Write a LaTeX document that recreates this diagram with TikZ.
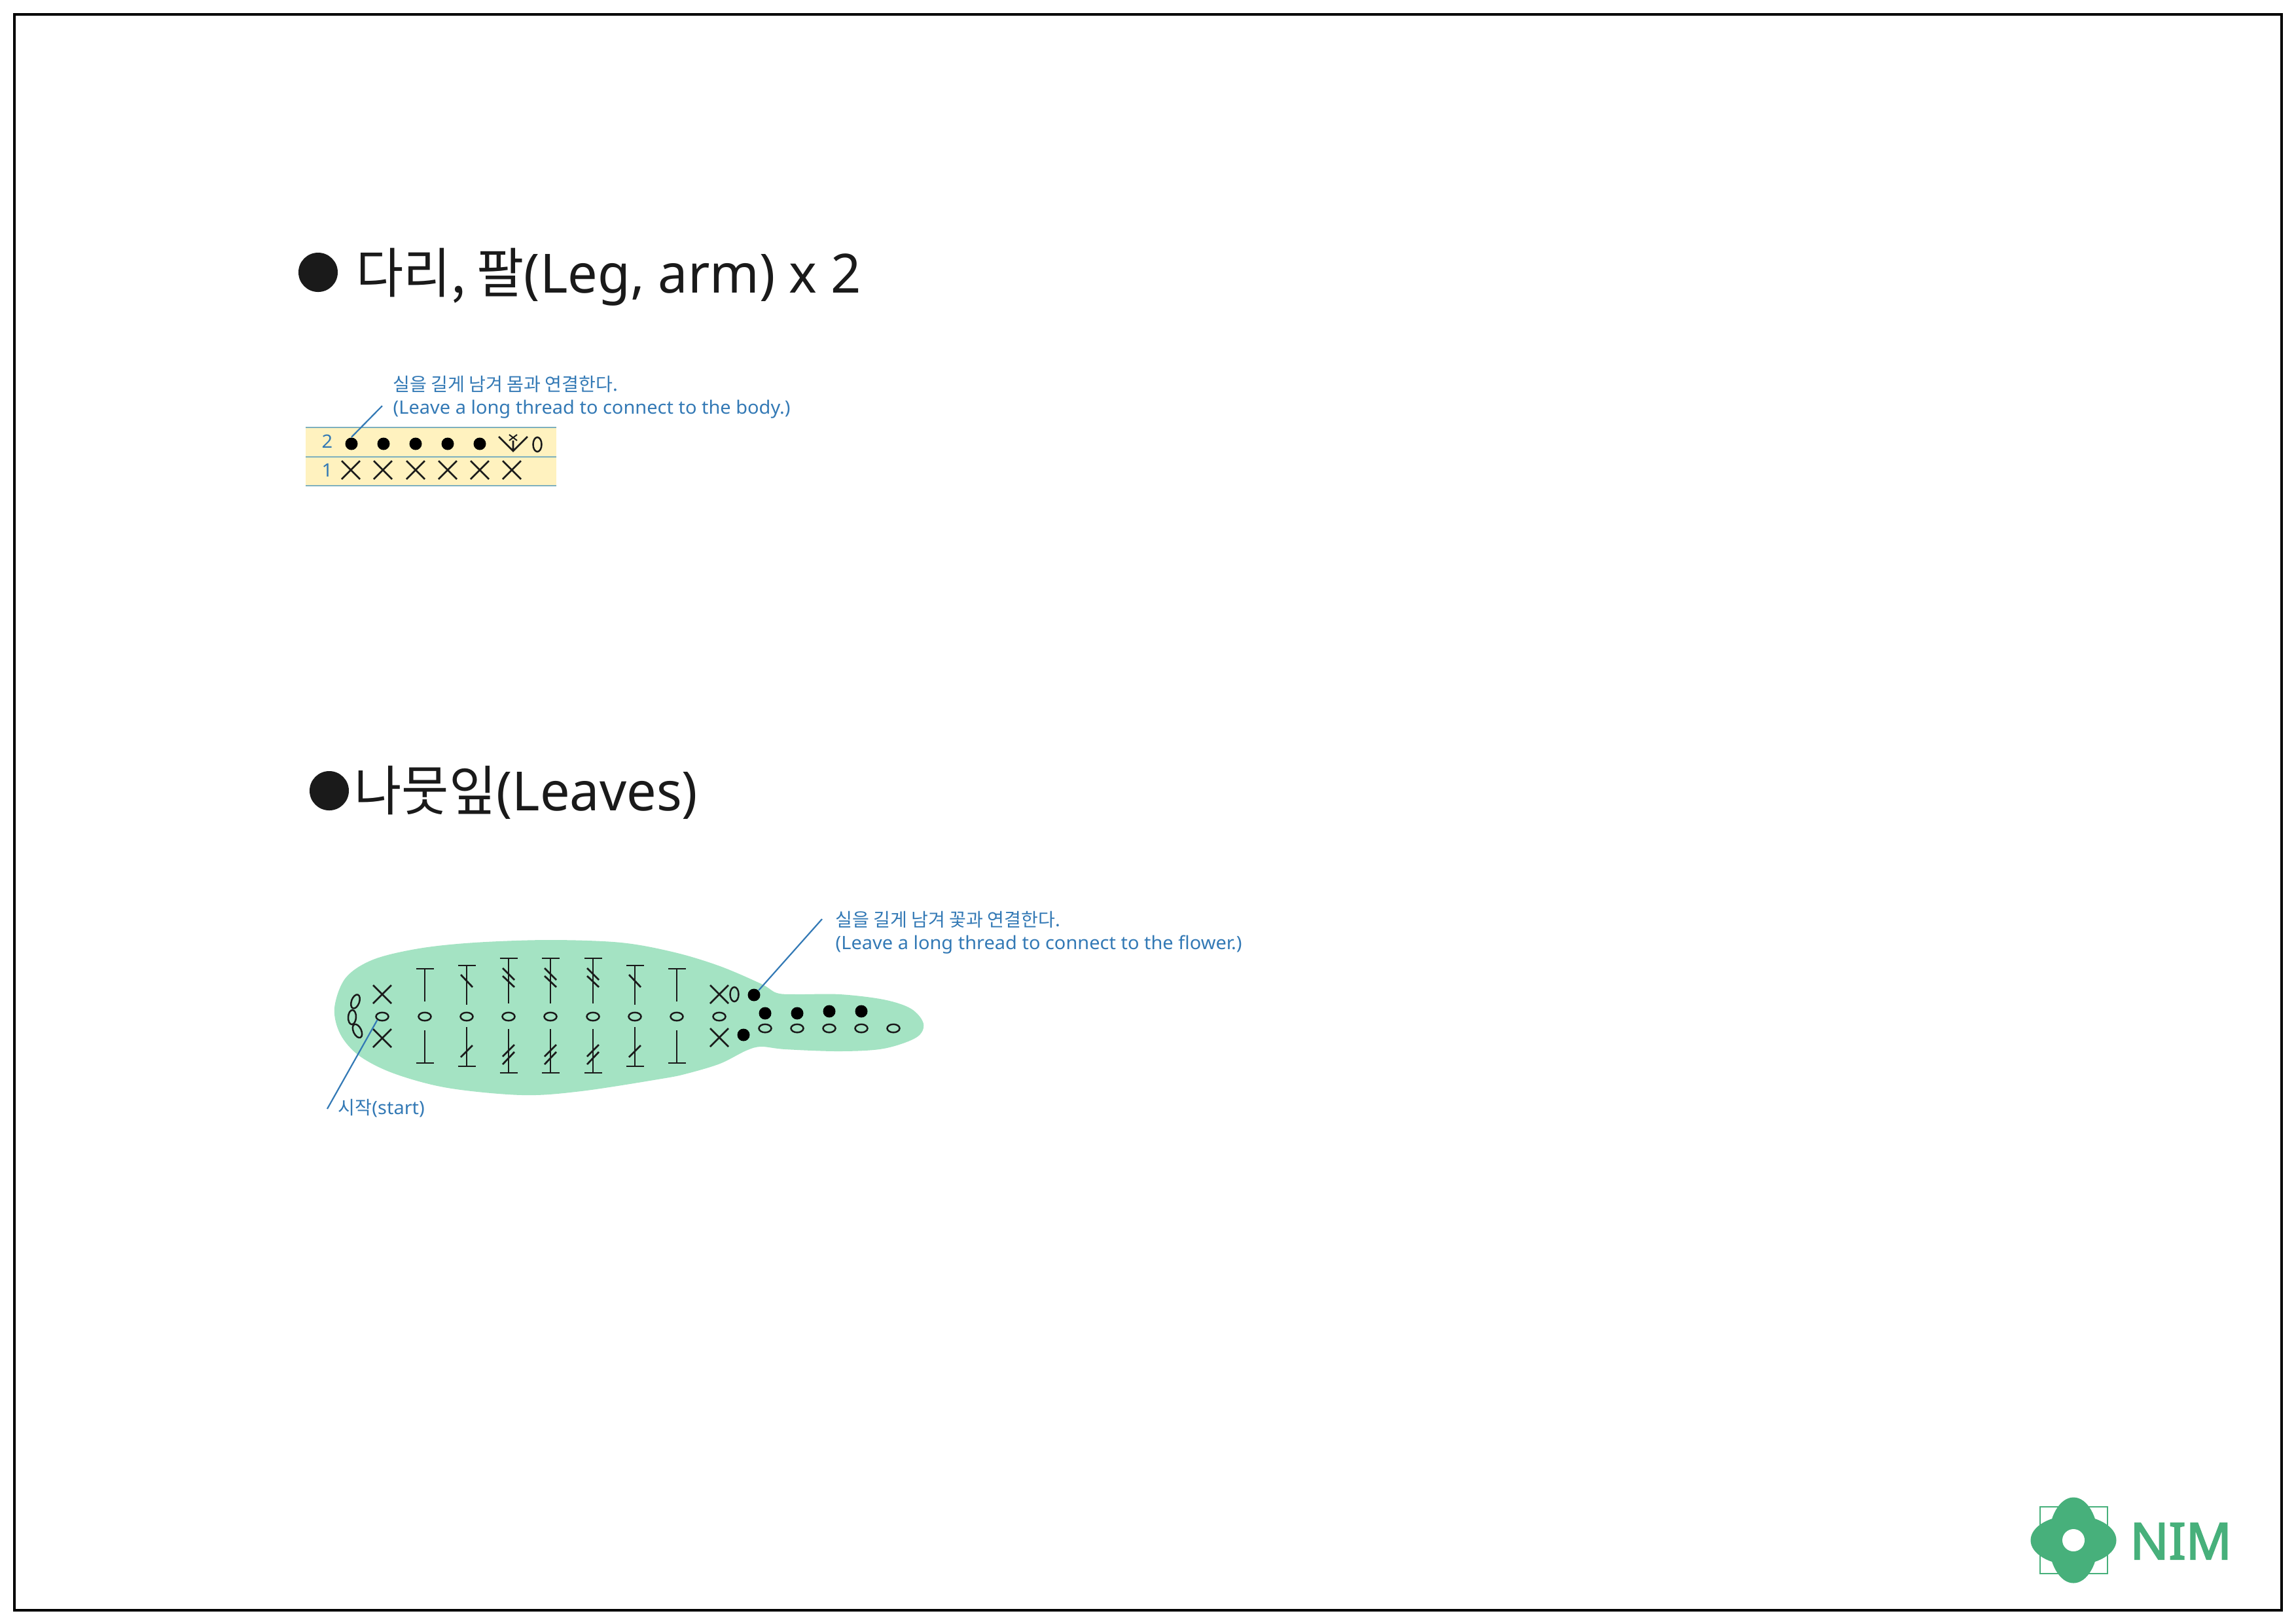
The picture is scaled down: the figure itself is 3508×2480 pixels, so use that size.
\documentclass[tikz,border=0pt]{standalone}
\usepackage{fontspec}
\setmainfont{Noto Sans CJK KR}
\newfontfamily\hangulwide{Noto Sans CJK KR}[FakeStretch=0.95]
\newfontfamily\latinnote{Noto Sans}[FakeStretch=1.03]
\newfontfamily\latintitle{Noto Sans}[FakeStretch=0.98]
\newfontfamily\logofont{Noto Sans}[FakeBold=2.6]
\usetikzlibrary{positioning,shapes.geometric}
\definecolor{noteblue}{HTML}{3379B5}
\definecolor{leafgreen}{HTML}{A4E3C3}
\definecolor{logogreen}{HTML}{47B07B}
\definecolor{bandyellow}{HTML}{FFF2BF}
\definecolor{bandline}{HTML}{7DB0BE}
\definecolor{inkblack}{HTML}{1A1A1A}

% crochet symbols, all sizes in reference pixels
\newcommand{\scstitch}[2]{% single crochet
  \draw[stitch] (#1-14,#2-14) -- (#1+14,#2+14) (#1-14,#2+14) -- (#1+14,#2-14);}
\newcommand{\upstem}[3]{\draw[stitch] (#1,#2) -- (#1,#3) (#1-13.5,#2) -- (#1+13.5,#2);}
\newcommand{\downstem}[3]{\draw[stitch] (#1,#2) -- (#1,#3) (#1-13.5,#3) -- (#1+13.5,#3);}
\newcommand{\yarnover}[3]{\draw[stitch] (#1-9,#2) -- (#1+9,#3);}

\begin{document}
\begin{tikzpicture}[
  x=0.01cm, y=-0.01cm,
  frame/.style={draw=black, line width=0.04cm},
  stitch/.style={draw=inkblack, line width=0.027cm},
  note/.style={anchor=base west, inner sep=0pt, text=noteblue, font=\fontsize{8}{10}\selectfont},
  leader/.style={draw=noteblue, line width=0.022cm},
  heading/.style={anchor=base west, inner sep=0pt, text=inkblack, font=\fontsize{23.5}{28}\selectfont},
  rowlabel/.style={inner sep=0pt, text=noteblue, font=\latinnote\fontsize{8}{10}\selectfont},
  bullet/.style={circle, fill=inkblack, inner sep=0pt, minimum size=0.6cm},
  dotst/.style={circle, fill=black, inner sep=0pt, minimum size=0.19cm},
  chain/.style={ellipse, draw=inkblack, line width=0.025cm, inner sep=0pt, minimum width=0.19cm, minimum height=0.125cm},
  zero/.style={ellipse, draw=inkblack, line width=0.025cm, inner sep=0pt, minimum width=0.13cm, minimum height=0.22cm},
  ring/.style={ellipse, draw=inkblack, line width=0.025cm, inner sep=0pt, minimum width=0.12cm, minimum height=0.22cm}
]
\useasboundingbox (0,0) rectangle (3508,2480);
\draw[frame] (22,22) rectangle (3486,2460);

% Leg, arm
\node[bullet] (bulletA) at (486,416) {};
\node[heading] (titleA) at (544,447) {\hangulwide 다리, 팔\latintitle(Leg, arm) x 2};

\fill[bandyellow] (467,653) rectangle (850,742);
\draw[bandline, line width=0.016cm] (467,653) -- (850,653) (467,698) -- (850,698) (467,742) -- (850,742);
\node[rowlabel] (rowB) at (500,674) {2};
\node[rowlabel] (rowA) at (500,718) {1};
\foreach \px in {536,585,635,684,733,782} {\scstitch{\px}{718}}
\foreach \px [count=\i] in {537,586,635,684,733} {\node[dotst] (armdot\i) at (\px,678) {};}
\draw[stitch] (762,667) -- (784,689) -- (806,667) (784,673) -- (784,689);
\draw[stitch, line width=0.02cm] (778,664) -- (790,673) (778,673) -- (790,664);
\node[zero] (armzero) at (821,679) {};

\node[note] (noteA) at (600,597) {실을 길게 남겨 몸과 연결한다.};
\node[note] (noteAb) at (600,632) {\latinnote (Leave a long thread to connect to the body.)};
\coordinate (armend) at (584,620);
\draw[leader] (armdot1.north) -- (armend);

% Leaves
\node[bullet] (bulletB) at (503,1208) {};
\node[heading] (titleB) at (541,1238) {\hangulwide 나뭇잎\latintitle(Leaves)};

\fill[leafgreen] plot[smooth cycle, tension=0.55] coordinates {
  (511,1540) (528,1494) (570,1466) (640,1449) (725,1440) (839,1436) (949,1440)
  (1031,1455) (1100,1476) (1163,1503) (1187,1517) (1217,1519) (1283,1519) (1350,1527) (1392,1541)
  (1411,1564) (1400,1585) (1350,1602) (1283,1606) (1200,1603) (1163,1599) (1140,1605)
  (1100,1625) (1050,1640) (1011,1648) (888,1667) (798,1673) (684,1662) (602,1640)
  (549,1613) (520,1580)};

% start chain
\node[ring, rotate=-20] (ringA) at (543,1530) {};
\node[ring, rotate=-3] (ringB) at (538,1554) {};
\node[ring, rotate=25] (ringC) at (546,1575) {};

\foreach \px/\py in {584/1519,584/1586,1099/1519,1099/1585} {\scstitch{\px}{\py}}
\foreach \px [count=\i] in {584,649,713,777,841,906,970,1034,1099} {\node[chain] (mid\i) at (\px,1553) {};}

% tall stitches
\foreach \px in {649,1034} {\upstem{\px}{1480}{1530} \downstem{\px}{1574}{1624}}
\foreach \px in {713,970} {
  \upstem{\px}{1475}{1535} \downstem{\px}{1569}{1629}
  \yarnover{\px}{1489}{1508} \yarnover{\px}{1615}{1597}}
\foreach \px in {777,841,906} {
  \upstem{\px}{1464}{1533} \downstem{\px}{1572}{1639}
  \yarnover{\px}{1479}{1497} \yarnover{\px}{1491}{1508}
  \yarnover{\px}{1614}{1596} \yarnover{\px}{1626}{1607}}

\node[zero] (leafzero) at (1122,1519) {};
\node[dotst] (leafdot) at (1152,1520) {};
\node[dotst] (leafdotb) at (1136,1581) {};
\foreach \px/\py [count=\i] in {1169/1548,1218/1548,1267/1545,1316/1545} {\node[dotst] (stem\i) at (\px,\py) {};}
\foreach \px [count=\i] in {1169,1218,1267,1316,1365} {\node[chain] (base\i) at (\px,1571) {};}

\node[note] (noteB) at (1276,1415) {실을 길게 남겨 꽃과 연결한다.};
\node[note] (noteBb) at (1276,1450) {\latinnote (Leave a long thread to connect to the flower.)};
\coordinate (leafend) at (1256,1404);
\draw[leader] (leafdot.north east) -- (leafend);

\node[note] (noteC) at (516,1702) {시작\latinnote(start)};
\coordinate (startend) at (500,1694);
\draw[leader] (mid1.south west) -- (startend);

% logo
\draw[logogreen, line width=0.02cm, fill=white] (3117,2302) rectangle (3220,2404);
\fill[logogreen] (3168,2353) ellipse [x radius=65.5, y radius=38];
\fill[logogreen] (3168,2353) ellipse [x radius=38, y radius=65.5];
\fill[white] (3168,2353) circle [radius=17];
\node[anchor=base west, inner sep=0pt, text=logogreen, font=\logofont\fontsize{22}{28}\selectfont] (logotext) at (3254,2382) {NIM};
\end{tikzpicture}
\end{document}
